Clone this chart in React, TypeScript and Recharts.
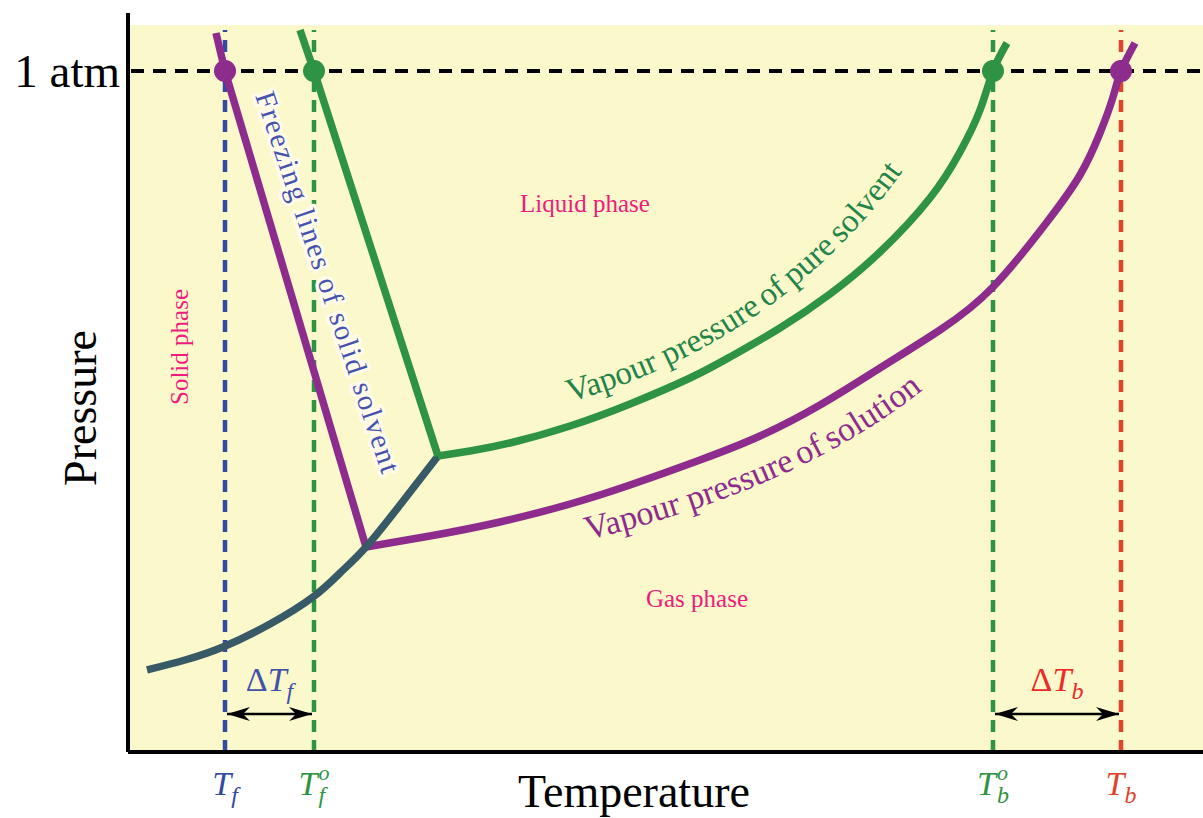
import {
  ComposedChart,
  Line,
  XAxis,
  YAxis,
  ReferenceArea,
  ReferenceLine,
  ReferenceDot,
} from 'recharts';

// temperature / pressure in arbitrary units
const tempTicks = [97, 186, 865, 993];
const tickSubs = ['f', 'f', 'b', 'b'];
const tickSups = ['', 'o', 'o', ''];
const atmPressure = 681;
const pressureTicks = [atmPressure];
const pressureTickLabels = ['1 atm'];

const solutionFreezing = [
  { t: 88, p: 719 },
  { t: 97, p: 681 },
  { t: 238, p: 205 },
];
const pureFreezing = [
  { t: 172, p: 722 },
  { t: 186, p: 681 },
  { t: 310, p: 296 },
];
const pureVapour = [
  { t: 310, p: 296 },
  { t: 342, p: 301 },
  { t: 382, p: 309 },
  { t: 442, p: 326 },
  { t: 502, p: 348 },
  { t: 562, p: 374 },
  { t: 602, p: 395 },
  { t: 652, p: 424 },
  { t: 702, p: 458 },
  { t: 752, p: 500 },
  { t: 802, p: 554 },
  { t: 832, p: 600 },
  { t: 852, p: 642 },
  { t: 865, p: 681 },
  { t: 879, p: 709 },
];
const solutionVapour = [
  { t: 238, p: 205 },
  { t: 302, p: 216 },
  { t: 372, p: 230 },
  { t: 442, p: 248 },
  { t: 502, p: 267 },
  { t: 572, p: 292 },
  { t: 632, p: 316 },
  { t: 692, p: 347 },
  { t: 752, p: 384 },
  { t: 812, p: 422 },
  { t: 865, p: 465 },
  { t: 919, p: 530 },
  { t: 952, p: 577 },
  { t: 972, p: 619 },
  { t: 985, p: 655 },
  { t: 993, p: 681 },
  { t: 1007, p: 709 },
];
const sublimation = [
  { t: 19, p: 82 },
  { t: 57, p: 92 },
  { t: 95, p: 105 },
  { t: 142, p: 128 },
  { t: 185, p: 155 },
  { t: 212, p: 179 },
  { t: 238, p: 205 },
  { t: 272, p: 247 },
  { t: 310, p: 296 },
];

const freezeDelta = [97, 186];
const boilDelta = [865, 993];
const arrowLevel = 38;
const regionTop = 727;

const pureLabelWords = ['Vapour', 'pressure', 'of', 'pure', 'solvent'];
const pureLabelOffsets = [0, 3.14, 6.64, 7.66, 9.62]; // em
const solLabelWords = ['Vapour', 'pressure', 'of', 'solution'];
const solLabelOffsets = [0, 3.14, 6.64, 7.66]; // em

const FONT = '"Liberation Serif", "Times New Roman", serif';
const BG = '#fbf8cc';
const PURPLE = '#8e2c8e';
const GREEN = '#2e9444';
const TEAL = '#385a66';
const BLUE = '#3449a0';
const RED = '#e0442c';
const PINK = '#ee1c7c';
const tickColors = [BLUE, GREEN, GREEN, RED];

function TempTick(props: any) {
  const { x, y, payload } = props;
  const i = tempTicks.indexOf(payload.value);
  const sup = tickSups[i];
  return (
    <text
      x={x}
      y={y + 35}
      textAnchor="middle"
      fill={tickColors[i]}
      fontFamily={FONT}
      fontStyle="italic"
      fontSize={34}
    >
      T
      {sup ? (
        <tspan fontSize={22} dx={1} dy={-15}>
          {sup}
        </tspan>
      ) : null}
      <tspan fontSize={24} dx={sup ? -11 : 0} dy={sup ? 23 : 8}>
        {tickSubs[i]}
      </tspan>
    </text>
  );
}

function PressureTick(props: any) {
  const { x, y, payload } = props;
  const i = pressureTicks.indexOf(payload.value);
  return (
    <text x={x} y={y} dy={16} textAnchor="end" fill="#000" fontFamily={FONT} fontSize={47}>
      {pressureTickLabels[i]}
    </text>
  );
}

function deltaArrow(sub: string, color: string) {
  return (props: any) => {
    const { x1, y1, x2 } = props;
    const a = x1 + 2;
    const b = x2 - 2;
    const y = y1;
    return (
      <g>
        <line x1={a} y1={y} x2={b} y2={y} stroke="#000" strokeWidth={2.5} />
        <polygon points={`${a},${y} ${a + 23},${y - 7} ${a + 16},${y} ${a + 23},${y + 7}`} fill="#000" />
        <polygon points={`${b},${y} ${b - 23},${y - 7} ${b - 16},${y} ${b - 23},${y + 7}`} fill="#000" />
        <text x={(a + b) / 2} y={y - 23} textAnchor="middle" fill={color} fontFamily={FONT} fontSize={34}>
          Δ<tspan fontStyle="italic">T</tspan>
          <tspan fontStyle="italic" fontSize={24} dy={8}>
            {sub}
          </tspan>
        </text>
      </g>
    );
  };
}

// label written along a curve, one <text> per word
function curvedLabel(id: string, rel: string, words: string[], offsets: number[], size: number, color: string) {
  return (props: any) => {
    const { cx, cy } = props;
    return (
      <g>
        <defs>
          <path id={id} d={`M ${cx} ${cy} ${rel}`} />
        </defs>
        {words.map((w, i) => (
          <text key={w + i} fontFamily={FONT} fontSize={size} fill={color}>
            <textPath href={`#${id}`} startOffset={offsets[i] * size}>
              {w}
            </textPath>
          </text>
        ))}
      </g>
    );
  };
}

function plainLabel(text: string, angle: number, size: number, color: string) {
  return (props: any) => {
    const { cx, cy } = props;
    return (
      <text
        transform={`translate(${cx} ${cy}) rotate(${angle})`}
        textAnchor="middle"
        fontFamily={FONT}
        fontSize={size}
        fill={color}
      >
        {text}
      </text>
    );
  };
}

function freezingLabel(props: any) {
  const { cx, cy } = props;
  return (
    <text
      transform={`translate(${cx} ${cy}) rotate(71.5)`}
      textAnchor="middle"
      dominantBaseline="central"
      fontFamily={FONT}
      fontSize={29}
      fill="#4653ad"
      stroke="#fffbea"
      strokeWidth={7}
      strokeLinejoin="round"
      paintOrder="stroke"
      textLength={400}
    >
      Freezing lines of solid solvent
    </text>
  );
}

export default function App() {
  const curve = { dot: false, isAnimationActive: false, dataKey: 'p', strokeWidth: 7.5 } as const;
  return (
    <div style={{ position: 'absolute', left: 0, top: 0 }}>
      <ComposedChart width={1203} height={818} margin={{ top: 13, right: 0, bottom: 0, left: 0 }}>
        <XAxis
          type="number"
          dataKey="t"
          domain={[0, 1075]}
          ticks={tempTicks}
          tick={<TempTick />}
          tickLine={false}
          axisLine={{ stroke: '#000', strokeWidth: 4 }}
          height={66}
          allowDataOverflow
        />
        <YAxis
          type="number"
          dataKey="p"
          domain={[0, 739]}
          ticks={pressureTicks}
          tick={<PressureTick />}
          tickLine={false}
          axisLine={{ stroke: '#000', strokeWidth: 4 }}
          width={128}
          allowDataOverflow
        />
        <ReferenceArea x1={2} x2={1075} y1={0} y2={regionTop} fill={BG} fillOpacity={1} stroke="none" />

        {tempTicks.map((t, i) => (
          <ReferenceLine
            key={t}
            segment={[
              { x: t, y: 0 },
              { x: t, y: regionTop - 5 },
            ]}
            stroke={tickColors[i]}
            strokeWidth={4.5}
            strokeDasharray="12 8"
          />
        ))}
        <ReferenceLine
          segment={[
            { x: 3, y: atmPressure },
            { x: 1075, y: atmPressure },
          ]}
          stroke="#000"
          strokeWidth={4}
          strokeDasharray="13 9"
        />

        <Line data={solutionFreezing} type="linear" stroke={PURPLE} {...curve} />
        <Line data={solutionVapour} type="natural" stroke={PURPLE} {...curve} />
        <Line data={sublimation} type="natural" stroke={TEAL} {...curve} />
        <Line data={pureFreezing} type="linear" stroke={GREEN} {...curve} />
        <Line data={pureVapour} type="natural" stroke={GREEN} {...curve} />

        <ReferenceDot x={tempTicks[0]} y={atmPressure} r={11} fill={PURPLE} stroke="none" />
        <ReferenceDot x={tempTicks[1]} y={atmPressure} r={11} fill={GREEN} stroke="none" />
        <ReferenceDot x={tempTicks[2]} y={atmPressure} r={11} fill={GREEN} stroke="none" />
        <ReferenceDot x={tempTicks[3]} y={atmPressure} r={11} fill={PURPLE} stroke="none" />

        <ReferenceLine
          segment={[
            { x: freezeDelta[0], y: arrowLevel },
            { x: freezeDelta[1], y: arrowLevel },
          ]}
          shape={deltaArrow('f', '#4152a8')}
        />
        <ReferenceLine
          segment={[
            { x: boilDelta[0], y: arrowLevel },
            { x: boilDelta[1], y: arrowLevel },
          ]}
          shape={deltaArrow('b', '#ec2a2a')}
        />

        <ReferenceDot
          x={442}
          y={350}
          shape={curvedLabel('pureLabelPath', 'c 112 -32, 252 -102, 354 -262', pureLabelWords, pureLabelOffsets, 33, '#23844a')}
        />
        <ReferenceDot
          x={460}
          y={212}
          shape={curvedLabel('solLabelPath', 'c 112 -28, 242 -72, 347 -160', solLabelWords, solLabelOffsets, 34, PURPLE)}
        />
        <ReferenceDot x={200} y={470} shape={freezingLabel} />
        <ReferenceDot x={457} y={540} shape={plainLabel('Liquid phase', 0, 25, PINK)} />
        <ReferenceDot x={569} y={145} shape={plainLabel('Gas phase', 0, 25, PINK)} />
        <ReferenceDot x={60} y={405} shape={plainLabel('Solid phase', -90, 25, PINK)} />

        <text transform="translate(96 408) rotate(-90)" textAnchor="middle" fontFamily={FONT} fontSize={46} fill="#000">
          Pressure
        </text>
        <text x={634} y={807} textAnchor="middle" fontFamily={FONT} fontSize={46} fill="#000">
          Temperature
        </text>
      </ComposedChart>
    </div>
  );
}
